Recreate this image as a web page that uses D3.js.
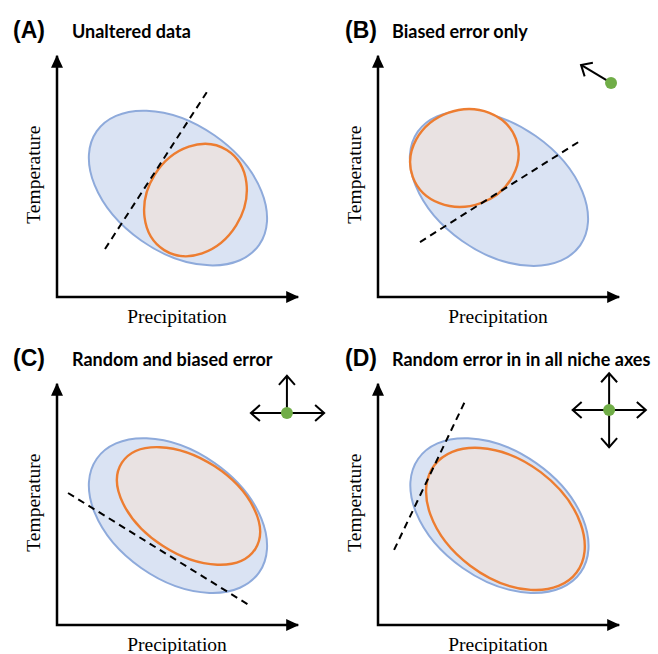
<!DOCTYPE html>
<html>
<head>
<meta charset="utf-8">
<script src="https://cdn.jsdelivr.net/npm/d3@7"></script>
<style>
  body { margin: 0; background: #fff; }
  svg { display: block; }
</style>
</head>
<body>
<svg id="chart" width="658" height="654"></svg>
<script>

// values in axis units (0-100 on both axes), angles in degrees clockwise
const panelIds = ["A", "B", "C", "D"]
const titles = ["Unaltered data", "Biased error only", "Random and biased error", "Random error in in all niche axes"]
const xLabel = "Precipitation"
const yLabel = "Temperature"

const fullNiche = [
    {cx: 50.4, cy: 45.4, rx: 41.3, ry: 26.7, angle: 35},
    {cx: 50.4, cy: 45.2, rx: 41.3, ry: 26.7, angle: 35},
    {cx: 50.4, cy: 45.6, rx: 41.3, ry: 26.7, angle: 35},
    {cx: 50.6, cy: 45.6, rx: 41.3, ry: 26.7, angle: 35}
]

const sampledNiche = [
    {cx: 57.7, cy: 40.4, rx: 20.0, ry: 24.6, angle: 32},
    {cx: 36.0, cy: 57.9, rx: 22.9, ry: 20.0, angle: -20},
    {cx: 54.8, cy: 49.6, rx: 33.1, ry: 19.8, angle: 33},
    {cx: 53.1, cy: 44.2, rx: 37.1, ry: 24.4, angle: 37}
]

const fitLines = [
    [[20.0, 20.0], [62.4, 85.3]],
    [[17.5, 22.9], [84.2, 65.0]],
    [[4.6, 55.0], [80.0, 8.3]],
    [[6.7, 31.3], [36.3, 93.3]]
]

const errorPoints = [null, [97.1, 89.2], [95.8, 88.3], [96.3, 89.6]]
const errorMoves = [
    [],
    [[-12.5, 7.5]],
    [[-15, 0], [15.5, 0], [0, 15.5]],
    [[-15.2, 0], [15.3, 0], [0, 15.3], [0, -15.5]]
]

const axisMax = 100.5

// layout
const origins = [[57, 297], [378, 297], [57, 625], [378, 625]]
const plotSize = 240
const letterX = [13, 345]
const titleX = [72, 392]

const colors = {
    fullFill: "#dae3f3",
    fullStroke: "#8eaadb",
    sampleFill: "#e9e2e2",
    sampleStroke: "#ed7d31",
    dot: "#70ad47"
}

let svg = d3.select("#chart")

let defs = svg.append("defs")

defs.append("marker")
    .attr("id", "axis-head")
    .attr("viewBox", "0 -6 13 12")
    .attr("refX", 12)
    .attr("refY", 0)
    .attr("markerWidth", 13)
    .attr("markerHeight", 12)
    .attr("markerUnits", "userSpaceOnUse")
    .attr("orient", "auto-start-reverse")
  .append("path")
    .attr("d", "M0,-6L13,0L0,6Z")
    .attr("fill", "#000")

defs.append("marker")
    .attr("id", "open-head")
    .attr("viewBox", "-12 -10 14 20")
    .attr("refX", 0)
    .attr("refY", 0)
    .attr("markerWidth", 14)
    .attr("markerHeight", 20)
    .attr("markerUnits", "userSpaceOnUse")
    .attr("orient", "auto")
  .append("path")
    .attr("d", "M-9,-8L0,0L-9,8")
    .attr("fill", "none")
    .attr("stroke", "#000")
    .attr("stroke-width", 2)

panelIds.forEach((id, i) => {

    let [ox, oy] = origins[i]
    let col = i % 2

    let x = d3.scaleLinear().domain([0, 100]).range([ox, ox + plotSize])
    let y = d3.scaleLinear().domain([0, 100]).range([oy, oy - plotSize])

    let g = svg.append("g").attr("class", "panel panel-" + id)

    // titles
    g.append("text")
        .attr("x", letterX[col])
        .attr("y", oy - 259)
        .attr("font-family", "Liberation Sans, Arial, sans-serif")
        .attr("font-weight", "bold")
        .attr("font-size", 23)
        .text("(" + id + ")")

    g.append("text")
        .attr("x", titleX[col])
        .attr("y", oy - 259)
        .attr("font-family", "Lato, sans-serif")
        .attr("font-weight", "bold")
        .attr("font-size", 18)
        .text(titles[i])

    // niche ellipses
    let full = fullNiche[i]
    g.append("ellipse")
        .attr("cx", x(full.cx))
        .attr("cy", y(full.cy))
        .attr("rx", x(full.rx) - x(0))
        .attr("ry", y(0) - y(full.ry))
        .attr("transform", `rotate(${full.angle},${x(full.cx)},${y(full.cy)})`)
        .attr("fill", colors.fullFill)
        .attr("stroke", colors.fullStroke)
        .attr("stroke-width", 2)

    let s = sampledNiche[i]
    g.append("ellipse")
        .attr("cx", x(s.cx))
        .attr("cy", y(s.cy))
        .attr("rx", x(s.rx) - x(0))
        .attr("ry", y(0) - y(s.ry))
        .attr("transform", `rotate(${s.angle},${x(s.cx)},${y(s.cy)})`)
        .attr("fill", colors.sampleFill)
        .attr("stroke", colors.sampleStroke)
        .attr("stroke-width", 2.4)

    // dashed fit line
    g.append("path")
        .attr("d", d3.line().x(d => x(d[0])).y(d => y(d[1]))(fitLines[i]))
        .attr("fill", "none")
        .attr("stroke", "#000")
        .attr("stroke-width", 2)
        .attr("stroke-dasharray", "7,5")

    // axes
    g.append("path")
        .attr("d", `M${x(0)},${y(axisMax)}L${x(0)},${y(0)}L${x(axisMax)},${y(0)}`)
        .attr("fill", "none")
        .attr("stroke", "#000")
        .attr("stroke-width", 2.5)
        .attr("stroke-linejoin", "miter")
        .attr("marker-start", "url(#axis-head)")
        .attr("marker-end", "url(#axis-head)")

    g.append("text")
        .attr("x", x(50))
        .attr("y", y(0) + 26)
        .attr("text-anchor", "middle")
        .attr("font-family", "Liberation Serif, Times New Roman, serif")
        .attr("font-size", 19.5)
        .text(xLabel)

    g.append("text")
        .attr("transform", `translate(${x(0) - 17},${y(51)}) rotate(-90)`)
        .attr("text-anchor", "middle")
        .attr("font-family", "Liberation Serif, Times New Roman, serif")
        .attr("font-size", 19.5)
        .text(yLabel)

    // error direction symbol
    let p = errorPoints[i]
    if (p) {
        g.selectAll(".move")
            .data(errorMoves[i])
            .enter()
            .append("line")
                .attr("class", "move")
                .attr("x1", x(p[0]))
                .attr("y1", y(p[1]))
                .attr("x2", d => x(p[0] + d[0]))
                .attr("y2", d => y(p[1] + d[1]))
                .attr("stroke", "#000")
                .attr("stroke-width", 2)
                .attr("marker-end", "url(#open-head)")

        g.append("circle")
            .attr("cx", x(p[0]))
            .attr("cy", y(p[1]))
            .attr("r", 6)
            .attr("fill", colors.dot)
    }
})

</script>
</body>
</html>
